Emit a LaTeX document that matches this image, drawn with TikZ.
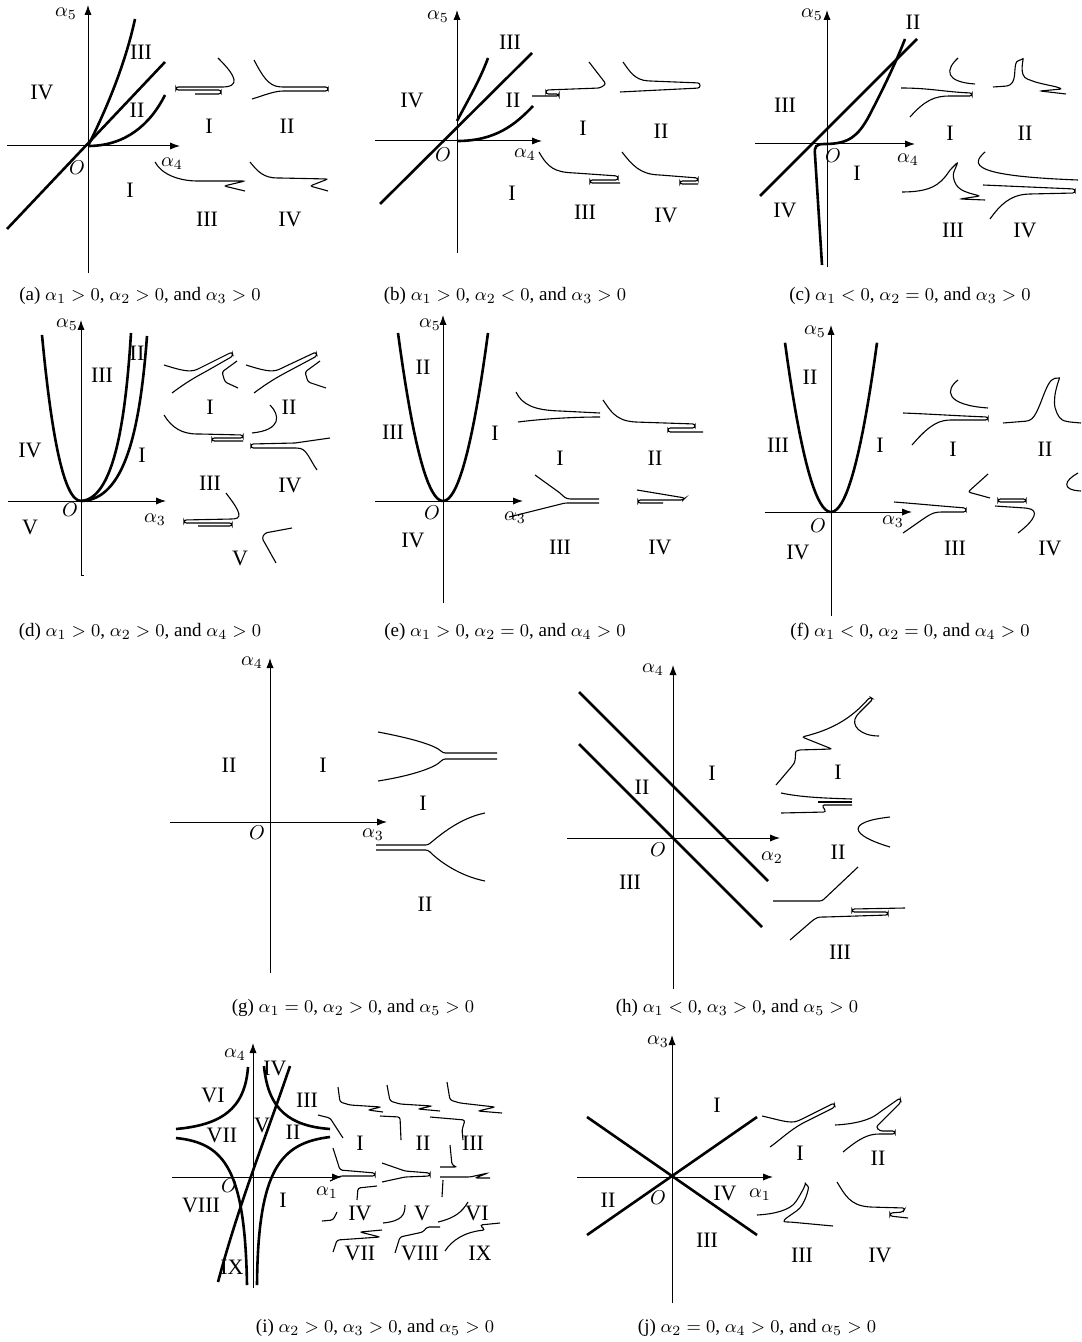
\documentclass[tikz,border=0pt]{standalone}
\usepackage{fontspec}
\setmainfont{Liberation Serif}
\usetikzlibrary{arrows.meta}
\tikzset{
  axis/.style={-{Latex[length=5pt,width=3.6pt]},line width=0.5pt},
  bd/.style={line width=1.3pt},
  sk/.style={line width=0.55pt,rounded corners=1.2pt},
  rlab/.style={font=\fontsize{11}{12}\selectfont,inner sep=0pt},
  alab/.style={font=\fontsize{10}{11}\selectfont,inner sep=0pt},
  capt/.style={font=\fontsize{9.5}{11}\selectfont,inner sep=0pt},
}
\begin{document}
\begin{tikzpicture}[x=0.5pt,y=-0.5pt]
\useasboundingbox (0,0) rectangle (1081,1342);

% (a)
\draw[axis] (88,273) -- (88,5);
\draw[axis] (7,146) -- (180,146);
\node[alab] (a5) at (66,14) {$\alpha_5$};
\node[alab] (a4) at (172,164) {$\alpha_4$};
\node[alab] (aO) at (77,168) {$O$};
\draw[bd] (7,229) -- (165,62);
\draw[bd] (88,146) .. controls (102,118) and (124,70) .. (135,19);
\draw[bd] (88,146) .. controls (125,146) and (150,125) .. (165,95);
\node[rlab] (aR3) at (141,52) {III};
\node[rlab] (aR2) at (137,110) {II};
\node[rlab] (aR4) at (42,92) {IV};
\node[rlab] (aR1) at (130,190) {I};
\draw[sk] (218,58) .. controls (230,70) and (242,84) .. (225,87) -- (176,87) -- (176,90) -- (221,90) -- (221,94) -- (195,94);
\draw[sk] (254,60) .. controls (262,75) and (268,86) .. (282,87) -- (328,87) -- (328,91) -- (282,91) .. controls (272,92) and (262,96) .. (252,99);
\draw[sk] (155,162) .. controls (162,175) and (180,181) .. (200,181) -- (245,181) -- (224,186) -- (245,191);
\draw[sk] (250,162) .. controls (258,172) and (264,178) .. (280,178) -- (328,179) -- (310,186) -- (328,191);
\node[rlab] (aS1) at (209,126) {I};
\node[rlab] (aS2) at (287,126) {II};
\node[rlab] (aS3) at (207,219) {III};
\node[rlab] (aS4) at (290,219) {IV};
\node[capt] (capa) at (140,296) {(a) $\alpha_1>0$, $\alpha_2>0$, and $\alpha_3>0$};

% (b)
\draw[axis] (457,253) -- (457,10);
\draw[axis] (375,141) -- (542,141);
\node[alab] (b5) at (438,17) {$\alpha_5$};
\node[alab] (b4) at (525,155) {$\alpha_4$};
\node[alab] (bO) at (443,155) {$O$};
\draw[bd] (380,204) -- (532,53);
\draw[bd] (457,121) .. controls (468,100) and (480,80) .. (488,58);
\draw[bd] (457,141) .. controls (495,141) and (515,125) .. (533,106);
\node[rlab] (bR3) at (510,42) {III};
\node[rlab] (bR2) at (513,100) {II};
\node[rlab] (bR4) at (412,100) {IV};
\node[rlab] (bR1) at (512,193) {I};
\draw[sk] (589,62) -- (606,84) -- (600,88) -- (546,90) -- (546,94) -- (559,94) -- (559,96) -- (532,96);
\draw[sk] (623,62) .. controls (630,72) and (635,80) .. (650,81) -- (700,83) -- (700,88) -- (620,92);
\draw[sk] (539,152) .. controls (548,168) and (555,172) .. (575,173) -- (618,176) -- (618,180) -- (590,180) -- (590,183) -- (620,183);
\draw[sk] (622,152) .. controls (632,165) and (640,174) .. (660,175) -- (698,178) -- (698,181) -- (680,181) -- (680,184) -- (698,184);
\node[rlab] (bS1) at (583,128) {I};
\node[rlab] (bS2) at (661,131) {II};
\node[rlab] (bS3) at (585,212) {III};
\node[rlab] (bS4) at (666,215) {IV};
\node[capt] (capb) at (505,296) {(b) $\alpha_1>0$, $\alpha_2<0$, and $\alpha_3>0$};

% (c)
\draw[axis] (827,267) -- (827,10);
\draw[axis] (755,144) -- (915,144);
\node[alab] (c5) at (812,15) {$\alpha_5$};
\node[alab] (c4) at (908,160) {$\alpha_4$};
\node[alab] (cO) at (833,156) {$O$};
\draw[bd] (760,196) -- (917,39);
\draw[bd] (822,265) -- (815,155) .. controls (814,146) and (816,144) .. (825,144) .. controls (850,144) and (858,135) .. (868,118) .. controls (880,95) and (895,65) .. (905,39);
\node[rlab] (cR2) at (913,22) {II};
\node[rlab] (cR3) at (785,105) {III};
\node[rlab] (cR1) at (857,173) {I};
\node[rlab] (cR4) at (785,210) {IV};
\draw[sk] (958,58) .. controls (945,70) and (945,82) .. (975,84);
\draw[sk] (901,88) .. controls (930,88) and (945,92) .. (972,93) -- (972,96) -- (952,96) .. controls (935,96) and (925,100) .. (910,117);
\draw[sk] (993,87) -- (1008,86) .. controls (1018,80) and (1012,62) .. (1021,60) .. controls (1024,58) and (1018,76) .. (1030,80) .. controls (1040,84) and (1055,86) .. (1062,89) -- (1040,91) -- (1066,94);
\draw[sk] (902,192) .. controls (930,192) and (940,185) .. (950,170) -- (958,162) -- (953,174) .. controls (955,190) and (965,192) .. (980,196) -- (960,199) -- (985,200);
\draw[sk] (985,152) .. controls (970,165) and (972,176) .. (1078,180);
\draw[sk] (983,185) -- (1075,189) -- (1075,193) -- (1030,194) .. controls (1010,195) and (1000,205) .. (990,219);
\node[rlab] (cS1) at (950,133) {I};
\node[rlab] (cS2) at (1025,133) {II};
\node[rlab] (cS3) at (953,230) {III};
\node[rlab] (cS4) at (1025,230) {IV};
\node[capt] (capc) at (910,296) {(c) $\alpha_1<0$, $\alpha_2=0$, and $\alpha_3>0$};

% (d)
\draw[axis] (81,575) -- (81,320);
\draw (81,575) -- (84,575);
\draw[axis] (8,501) -- (166,501);
\node[alab] (d5) at (67,325) {$\alpha_5$};
\node[alab] (d3) at (155,520) {$\alpha_3$};
\node[alab] (dO) at (70,510) {$O$};
\draw[bd] (42,335) .. controls (50,420) and (62,501) .. (81,501);
\draw[bd] (81,501) .. controls (112,499) and (125,430) .. (131,333);
\draw[bd] (81,501) .. controls (125,500) and (140,430) .. (147,336);
\node[rlab] (dR3) at (102,375) {III};
\node[rlab] (dR2) at (137,353) {II};
\node[rlab] (dR4) at (30,450) {IV};
\node[rlab] (dR1) at (142,455) {I};
\node[rlab] (dR5) at (30,527) {V};
\draw[sk] (164,365) .. controls (180,370) and (190,373) .. (200,368) -- (232,352) -- (233,356) -- (205,372) .. controls (190,380) and (180,387) .. (172,393);
\draw[sk] (237,361) -- (222,372) -- (225,382) -- (238,388);
\draw[sk] (246,365) .. controls (262,370) and (272,373) .. (282,368) -- (316,352) -- (317,356) -- (287,372) .. controls (272,380) and (262,387) .. (254,393);
\draw[sk] (320,361) -- (305,372) -- (308,382) -- (326,388);
\draw[sk] (164,415) .. controls (172,428) and (182,434) .. (200,434) -- (243,435) -- (243,438) -- (212,438) -- (212,441) -- (243,441);
\draw[sk] (270,405) .. controls (280,415) and (282,430) .. (252,433);
\draw[sk] (295,443) -- (330,438);
\draw[sk] (295,443) -- (251,444) -- (251,448) -- (298,448) .. controls (307,450) and (310,460) .. (317,470);
\draw[sk] (226,493) .. controls (235,505) and (245,518) .. (232,519) -- (184,520) -- (184,523) -- (232,523) -- (232,526) -- (198,526);
\draw[sk] (292,528) -- (265,533) -- (262,538) -- (276,563);
\node[rlab] (dS1) at (210,407) {I};
\node[rlab] (dS2) at (289,407) {II};
\node[rlab] (dS3) at (210,483) {III};
\node[rlab] (dS4) at (290,485) {IV};
\node[rlab] (dS5) at (240,558) {V};
\node[capt] (capd) at (140,632) {(d) $\alpha_1>0$, $\alpha_2>0$, and $\alpha_4>0$};

% (e)
\draw[axis] (443,603) -- (443,315);
\draw[axis] (375,501) -- (523,501);
\node[alab] (e5) at (430,325) {$\alpha_5$};
\node[alab] (e3) at (515,518) {$\alpha_3$};
\node[alab] (eO) at (432,513) {$O$};
\draw[bd] plot[domain=-45:45,samples=40] ({443+\x},{501-0.083*\x*\x});
\node[rlab] (eR2) at (423,367) {II};
\node[rlab] (eR3) at (393,432) {III};
\node[rlab] (eR1) at (495,433) {I};
\node[rlab] (eR4) at (413,540) {IV};
\draw[sk] (516,392) .. controls (522,405) and (535,410) .. (560,411) -- (600,413);
\draw[sk] (518,422) .. controls (550,418) and (580,417) .. (600,417);
\draw[sk] (603,400) .. controls (610,410) and (615,420) .. (635,422) -- (695,424) -- (695,428) -- (668,428) -- (668,432) -- (703,432);
\draw[sk] (535,475) -- (560,493) .. controls (566,499) and (568,499) .. (575,499) -- (599,499);
\draw[sk] (509,517) -- (565,503) -- (599,503);
\draw[sk] (637,490) -- (685,498) -- (683,500) -- (638,500) -- (638,503) -- (663,503);
\node[rlab] (eS1) at (560,458) {I};
\node[rlab] (eS2) at (655,458) {II};
\node[rlab] (eS3) at (560,547) {III};
\node[rlab] (eS4) at (660,547) {IV};
\node[capt] (cape) at (505,632) {(e) $\alpha_1>0$, $\alpha_2=0$, and $\alpha_4>0$};

% (f)
\draw[axis] (831,616) -- (831,325);
\draw[axis] (765,512) -- (912,512);
\node[alab] (f5) at (815,332) {$\alpha_5$};
\node[alab] (f3) at (893,522) {$\alpha_3$};
\node[alab] (fO) at (818,526) {$O$};
\draw[bd] plot[domain=-46:46,samples=40] ({831+\x},{512-0.080*\x*\x});
\node[rlab] (fR2) at (810,377) {II};
\node[rlab] (fR3) at (778,445) {III};
\node[rlab] (fR1) at (880,445) {I};
\node[rlab] (fR4) at (798,552) {IV};
\draw[sk] (958,380) .. controls (945,390) and (945,405) .. (988,408);
\draw[sk] (903,413) .. controls (930,414) and (960,416) .. (988,417) -- (988,420) -- (950,420) .. controls (935,421) and (925,430) .. (912,445);
\draw[sk] (1003,423) -- (1028,421) .. controls (1040,415) and (1045,380) .. (1057,378) .. controls (1060,378) and (1050,400) .. (1058,415) .. controls (1062,422) and (1070,422) .. (1081,423);
\draw[sk] (988,474) -- (968,492) -- (990,498);
\draw[sk] (894,502) .. controls (920,504) and (940,506) .. (966,508) -- (966,512) -- (940,512) .. controls (930,513) and (925,518) .. (903,533);
\draw[sk] (998,499) -- (1026,499) -- (1026,502) -- (998,502) -- cycle;
\draw[sk] (995,506) -- (1025,508) .. controls (1040,510) and (1035,520) .. (1018,533);
\draw[sk] (1078,473) .. controls (1065,480) and (1060,490) .. (1081,491);
\node[rlab] (fS1) at (953,449) {I};
\node[rlab] (fS2) at (1045,449) {II};
\node[rlab] (fS3) at (955,548) {III};
\node[rlab] (fS4) at (1050,548) {IV};
\node[capt] (capf) at (910,632) {(f) $\alpha_1<0$, $\alpha_2=0$, and $\alpha_4>0$};

% (g)
\draw[axis] (270,973) -- (270,658);
\draw[axis] (170,822) -- (387,822);
\node[alab] (g4) at (252,663) {$\alpha_4$};
\node[alab] (g3) at (373,835) {$\alpha_3$};
\node[alab] (gO) at (257,833) {$O$};
\node[rlab] (gR2) at (229,765) {II};
\node[rlab] (gR1) at (323,765) {I};
\draw[sk] (378,732) .. controls (410,738) and (435,745) .. (443,753) -- (497,753);
\draw[sk] (378,781) .. controls (410,776) and (435,768) .. (443,759) -- (497,759);
\draw[sk] (376,845) -- (428,845) .. controls (440,835) and (460,818) .. (485,813);
\draw[sk] (376,850) -- (428,850) .. controls (440,862) and (460,876) .. (485,881);
\node[rlab] (gS1) at (423,803) {I};
\node[rlab] (gS2) at (425,904) {II};
\node[capt] (capg) at (353,1008) {(g) $\alpha_1=0$, $\alpha_2>0$, and $\alpha_5>0$};

% (h)
\draw[axis] (673,989) -- (673,665);
\draw[axis] (567,838) -- (780,838);
\node[alab] (h4) at (653,670) {$\alpha_4$};
\node[alab] (h2) at (772,858) {$\alpha_2$};
\node[alab] (hO) at (658,850) {$O$};
\draw[bd] (579,692) -- (768,881);
\draw[bd] (579,744) -- (762,927);
\node[rlab] (hR1) at (712,773) {I};
\node[rlab] (hR2) at (642,787) {II};
\node[rlab] (hR3) at (630,882) {III};
\draw[sk] (776,785) -- (793,765) .. controls (796,760) and (795,752) .. (798,750) -- (832,749) -- (802,737) .. controls (830,730) and (850,720) .. (870,697) -- (873,699) -- (858,714) .. controls (850,725) and (860,736) .. (879,736);
\draw[sk] (781,793) .. controls (800,797) and (820,798) .. (852,799);
\draw[sk] (818,802) -- (852,802);
\draw[sk] (781,813) -- (826,812) -- (822,805) -- (852,805);
\draw[sk] (890,817) .. controls (845,822) and (850,835) .. (890,847);
\draw[sk] (773,901) -- (822,901) -- (858,867);
\draw[sk] (790,940) -- (812,921) .. controls (816,918) and (818,917) .. (825,917) -- (888,915) -- (888,912) -- (852,912) -- (852,909) -- (905,908);
\node[rlab] (hS1) at (838,772) {I};
\node[rlab] (hS2) at (838,852) {II};
\node[rlab] (hS3) at (840,952) {III};
\node[capt] (caph) at (737,1008) {(h) $\alpha_1<0$, $\alpha_3>0$, and $\alpha_5>0$};

% (i)
\draw[axis] (253,1288) -- (253,1043);
\draw[axis] (172,1177) -- (342,1177);
\node[alab] (i4) at (235,1055) {$\alpha_4$};
\node[alab] (i1) at (327,1193) {$\alpha_1$};
\node[alab] (iO) at (229,1186) {$O$};
\draw[bd] (176,1129) .. controls (220,1125) and (245,1110) .. (248,1067);
\draw[bd] (176,1138) .. controls (225,1143) and (245,1170) .. (247,1285);
\draw[bd] (264,1066) .. controls (268,1110) and (290,1126) .. (330,1129);
\draw[bd] (257,1285) .. controls (258,1170) and (280,1143) .. (330,1137);
\draw[bd] (218,1282) .. controls (240,1200) and (265,1140) .. (290,1066);
\node[rlab] (iR6) at (213,1095) {VI};
\node[rlab] (iR7) at (222,1135) {VII};
\node[rlab] (iR5) at (262,1125) {V};
\node[rlab] (iR2) at (293,1132) {II};
\node[rlab] (iR3) at (307,1100) {III};
\node[rlab] (iR4) at (275,1068) {IV};
\node[rlab] (iR8) at (201,1205) {VIII};
\node[rlab] (iR1) at (283,1200) {I};
\node[rlab] (iR9) at (232,1267) {IX};
\draw[sk] (338,1087) -- (340,1102) -- (350,1105) -- (381,1107) -- (368,1110) -- (383,1112);
\draw[sk] (318,1115) -- (330,1118) -- (343,1138);
\draw[sk] (387,1085) -- (390,1101) -- (400,1104) -- (432,1106) -- (418,1109) -- (440,1111);
\draw[sk] (380,1116) -- (400,1117) -- (401,1140);
\draw[sk] (447,1082) -- (450,1100) -- (460,1103) -- (495,1107) -- (478,1111) -- (502,1113);
\draw[sk] (430,1117) -- (465,1120) -- (462,1130) -- (463,1140);
\draw[sk] (333,1148) -- (340,1170) -- (375,1173) -- (375,1176) -- (340,1176) -- (330,1181);
\draw[sk] (377,1186) -- (358,1188) -- (357,1200);
\draw[sk] (322,1221) -- (333,1220) -- (337,1212);
\draw[sk] (382,1163) -- (405,1171) -- (430,1173) -- (430,1176) -- (405,1177) -- (382,1182);
\draw[sk] (405,1205) .. controls (405,1215) and (402,1221) .. (383,1223);
\draw[sk] (450,1145) -- (452,1165) -- (457,1167) -- (440,1167);
\draw[sk] (440,1177) -- (470,1177) -- (488,1173) -- (475,1178) -- (490,1178);
\draw[sk] (443,1180) -- (442,1197);
\draw[sk] (468,1202) .. controls (462,1212) and (455,1218) .. (438,1222);
\draw[sk] (333,1252) -- (337,1240) -- (380,1237) -- (360,1232) -- (382,1230);
\draw[sk] (395,1253) -- (400,1237) -- (423,1232) -- (427,1227) -- (440,1227);
\draw[sk] (445,1251) .. controls (452,1240) and (465,1232) .. (485,1230) -- (480,1225) -- (500,1223);
\node[rlab] (iS1) at (360,1143) {I};
\node[rlab] (iS2) at (423,1143) {II};
\node[rlab] (iS3) at (473,1143) {III};
\node[rlab] (iS4) at (360,1213) {IV};
\node[rlab] (iS5) at (422,1213) {V};
\node[rlab] (iS6) at (477,1213) {VI};
\node[rlab] (iS7) at (360,1253) {VII};
\node[rlab] (iS8) at (420,1253) {VIII};
\node[rlab] (iS9) at (480,1253) {IX};
\node[capt] (capi) at (375,1328) {(i) $\alpha_2>0$, $\alpha_3>0$, and $\alpha_5>0$};

% (j)
\draw[axis] (672,1303) -- (672,1035);
\draw[axis] (577,1177) -- (773,1177);
\node[alab] (j3) at (658,1042) {$\alpha_3$};
\node[alab] (j1) at (760,1195) {$\alpha_1$};
\node[alab] (jO) at (658,1198) {$O$};
\draw[bd] (587,1117) -- (757,1235);
\draw[bd] (587,1235) -- (757,1117);
\node[rlab] (jR1) at (717,1105) {I};
\node[rlab] (jR2) at (608,1200) {II};
\node[rlab] (jR4) at (725,1193) {IV};
\node[rlab] (jR3) at (707,1240) {III};
\draw[sk] (762,1116) .. controls (780,1120) and (790,1124) .. (800,1120) -- (834,1103) -- (835,1107) -- (805,1122) .. controls (790,1130) and (780,1140) .. (770,1147);
\draw[sk] (835,1125) .. controls (855,1124) and (870,1120) .. (880,1112) -- (900,1098) -- (901,1102) -- (876,1127) -- (880,1131) -- (895,1131) -- (895,1134) -- (878,1134) .. controls (865,1135) and (855,1142) .. (843,1152);
\draw[sk] (757,1215) .. controls (775,1214) and (790,1210) .. (797,1200) .. controls (803,1190) and (806,1184) .. (807,1185) .. controls (809,1188) and (805,1205) .. (795,1212) .. controls (785,1219) and (780,1222) .. (790,1222) -- (833,1226);
\draw[sk] (837,1182) .. controls (845,1195) and (850,1205) .. (870,1207) -- (905,1208) -- (903,1212) -- (890,1213) -- (890,1216) -- (908,1218);
\node[rlab] (jS1) at (800,1153) {I};
\node[rlab] (jS2) at (878,1158) {II};
\node[rlab] (jS3) at (802,1255) {III};
\node[rlab] (jS4) at (880,1255) {IV};
\node[capt] (capj) at (757,1328) {(j) $\alpha_2=0$, $\alpha_4>0$, and $\alpha_5>0$};
\end{tikzpicture}
\end{document}
